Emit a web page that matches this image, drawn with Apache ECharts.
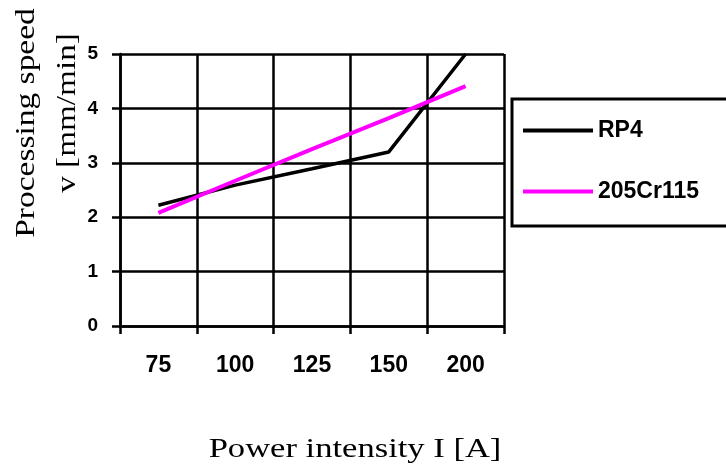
<!DOCTYPE html>
<html>
<head>
<meta charset="utf-8">
<script src="https://cdn.jsdelivr.net/npm/echarts@6/dist/echarts.min.js"></script>
<style>
html,body{margin:0;padding:0;background:#fff;}
#chart{width:726px;height:471px;}
</style>
</head>
<body>
<div id="chart"></div>
<script>
const categories = ['75', '100', '125', '150', '200'];
const rp4 = [2.22, 2.59, 2.89, 3.2, 5.0];
const cr115 = [2.08, 2.67, 3.25, 3.82, 4.41];
const seriesNames = ['RP4', '205Cr115'];
const yTicks = [0, 1, 2, 3, 4, 5];
const xTitle = 'Power intensity I [A]';
const yTitle1 = 'Processing speed';
const yTitle2 = 'v [mm/min]';

const chart = echarts.init(document.getElementById('chart'), null, {renderer: 'canvas'});
const serif = '"Liberation Serif", "Times New Roman", serif';
const sans = '"Liberation Sans", Arial, sans-serif';

chart.setOption({
  animation: false,
  backgroundColor: '#ffffff',
  grid: {left: 120, right: 222, top: 54, bottom: 145, containLabel: false},
  xAxis: {
    type: 'category',
    data: categories,
    boundaryGap: true,
    axisLine: {show: true, lineStyle: {color: '#000', width: 2.5}},
    axisTick: {show: true, inside: false, length: 8, alignWithLabel: false, lineStyle: {color: '#000', width: 2.5}},
    splitLine: {show: true, lineStyle: {color: '#000', width: 2.5}},
    axisLabel: {margin: 28, color: '#000', fontSize: 23, fontWeight: 'bold', fontFamily: sans}
  },
  yAxis: {
    type: 'value',
    min: yTicks[0],
    max: yTicks[yTicks.length - 1],
    interval: 1,
    axisLine: {show: true, lineStyle: {color: '#000', width: 2.5}},
    axisTick: {show: true, inside: false, length: 8, lineStyle: {color: '#000', width: 2.5}},
    splitLine: {show: true, lineStyle: {color: '#000', width: 2.5}},
    axisLabel: {margin: 22, color: '#000', fontSize: 19, fontWeight: 'bold', fontFamily: sans}
  },
  legend: {
    left: 512,
    top: 99,
    orient: 'vertical',
    data: seriesNames,
    icon: 'rect',
    itemWidth: 70,
    itemHeight: 4,
    itemGap: 38,
    padding: [20, 60, 23, 11],
    borderColor: '#000',
    borderWidth: 3,
    borderRadius: 0,
    backgroundColor: '#fff',
    textStyle: {color: '#000', fontSize: 23, fontWeight: 'bold', fontFamily: sans, lineHeight: 23}
  },
  series: [
    {
      name: seriesNames[0],
      type: 'line',
      data: rp4,
      symbol: 'none',
      lineStyle: {color: '#000', width: 3.5},
      itemStyle: {color: '#000'},
      z: 3
    },
    {
      name: seriesNames[1],
      type: 'line',
      data: cr115,
      symbol: 'none',
      lineStyle: {color: '#ff00ff', width: 4},
      itemStyle: {color: '#ff00ff'},
      z: 4
    }
  ],
  graphic: [
    {
      type: 'text', x: 355, y: 450, scaleX: 1.28,
      style: {text: xTitle, font: '27px ' + serif, fill: '#000', textAlign: 'center', textVerticalAlign: 'middle'}
    },
    {
      type: 'text', x: 27, y: 123, rotation: Math.PI / 2, scaleX: 1.24,
      style: {text: yTitle1, font: '27px ' + serif, fill: '#000', textAlign: 'center', textVerticalAlign: 'middle'}
    },
    {
      type: 'text', x: 68, y: 113, rotation: Math.PI / 2, scaleX: 1.23,
      style: {text: yTitle2, font: '27px ' + serif, fill: '#000', textAlign: 'center', textVerticalAlign: 'middle'}
    }
  ]
});
</script>
</body>
</html>
